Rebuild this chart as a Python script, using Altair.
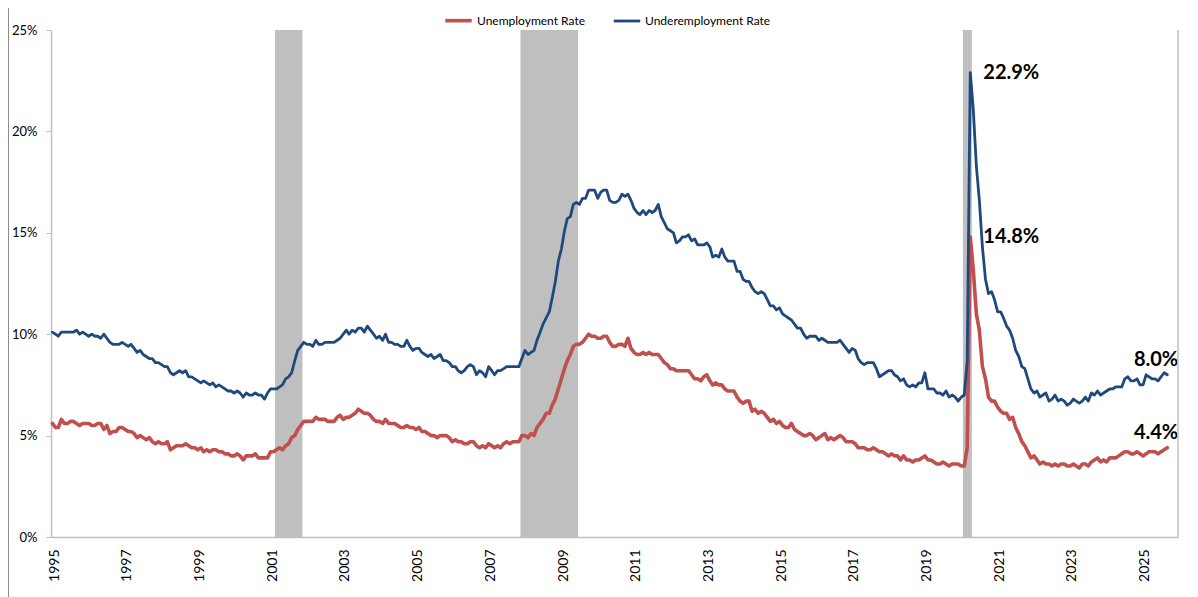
import altair as alt
import pandas as pd

# Monthly data, Jan 1995 - Sep 2025 (percent)
unemployment = [
    5.6,5.4,5.4,5.8,5.6,5.6,5.7,5.7,5.6,5.5,5.6,5.6,
    5.6,5.5,5.5,5.6,5.6,5.3,5.5,5.1,5.2,5.2,5.4,5.4,
    5.3,5.2,5.2,5.1,4.9,5.0,4.9,4.8,4.9,4.7,4.6,4.7,
    4.6,4.6,4.7,4.3,4.4,4.5,4.5,4.5,4.6,4.5,4.4,4.4,
    4.3,4.4,4.2,4.3,4.2,4.3,4.3,4.2,4.2,4.1,4.1,4.0,
    4.0,4.1,4.0,3.8,4.0,4.0,4.0,4.1,3.9,3.9,3.9,3.9,
    4.2,4.2,4.3,4.4,4.3,4.5,4.6,4.9,5.0,5.3,5.5,5.7,
    5.7,5.7,5.7,5.9,5.8,5.8,5.8,5.7,5.7,5.7,5.9,6.0,
    5.8,5.9,5.9,6.0,6.1,6.3,6.2,6.1,6.1,6.0,5.8,5.7,
    5.7,5.6,5.8,5.6,5.6,5.6,5.5,5.4,5.4,5.5,5.4,5.4,
    5.3,5.4,5.2,5.2,5.1,5.0,5.0,4.9,5.0,5.0,5.0,4.9,
    4.7,4.8,4.7,4.7,4.6,4.6,4.7,4.7,4.5,4.4,4.5,4.4,
    4.6,4.5,4.4,4.5,4.4,4.6,4.7,4.6,4.7,4.7,4.7,5.0,
    5.0,4.9,5.1,5.0,5.4,5.6,5.8,6.1,6.1,6.5,6.8,7.3,
    7.8,8.3,8.7,9.0,9.4,9.5,9.5,9.6,9.8,10.0,9.9,9.9,
    9.8,9.8,9.9,9.9,9.6,9.4,9.4,9.5,9.5,9.4,9.8,9.3,
    9.1,9.0,9.0,9.1,9.0,9.1,9.0,9.0,9.0,8.8,8.6,8.5,
    8.3,8.3,8.2,8.2,8.2,8.2,8.2,8.0,7.8,7.8,7.7,7.9,
    8.0,7.7,7.5,7.6,7.5,7.5,7.3,7.2,7.2,7.2,6.9,6.7,
    6.6,6.7,6.7,6.2,6.3,6.1,6.2,6.1,5.9,5.7,5.8,5.6,
    5.7,5.5,5.4,5.4,5.6,5.3,5.2,5.1,5.0,5.0,5.1,5.0,
    4.8,4.9,5.0,5.1,4.8,4.9,4.8,4.9,5.0,4.9,4.7,4.7,
    4.7,4.6,4.4,4.4,4.4,4.3,4.3,4.4,4.3,4.2,4.2,4.1,
    4.0,4.1,4.0,4.0,3.8,4.0,3.8,3.8,3.7,3.8,3.8,3.9,
    4.0,3.8,3.8,3.7,3.6,3.6,3.7,3.6,3.5,3.6,3.6,3.6,
    3.5,3.5,4.4,14.8,13.2,11.0,10.2,8.4,7.8,6.9,6.7,6.7,
    6.4,6.2,6.1,6.1,5.8,5.9,5.4,5.1,4.7,4.5,4.2,3.9,
    4.0,3.8,3.6,3.7,3.6,3.6,3.5,3.6,3.5,3.6,3.6,3.5,
    3.5,3.6,3.5,3.4,3.6,3.6,3.5,3.7,3.8,3.9,3.7,3.8,
    3.7,3.9,3.9,3.9,4.0,4.1,4.2,4.2,4.1,4.1,4.2,4.1,
    4.0,4.1,4.2,4.2,4.2,4.1,4.2,4.3,4.4,
]

underemployment = [
    10.1,10.0,9.9,10.1,10.1,10.1,10.1,10.1,10.2,10.0,10.1,10.0,
    9.9,10.0,9.9,9.9,9.8,10.0,9.8,9.6,9.5,9.5,9.5,9.6,
    9.5,9.4,9.5,9.3,9.1,9.2,9.0,8.9,8.8,8.8,8.6,8.6,
    8.5,8.4,8.4,8.1,8.0,8.1,8.2,8.1,8.2,7.9,7.9,7.8,
    7.7,7.6,7.7,7.6,7.5,7.6,7.4,7.5,7.4,7.3,7.2,7.2,
    7.1,7.2,7.1,6.9,7.1,7.0,7.0,7.1,7.0,7.0,6.8,7.1,
    7.3,7.3,7.3,7.4,7.5,7.8,7.9,8.1,8.7,9.2,9.4,9.6,
    9.5,9.5,9.4,9.7,9.5,9.5,9.6,9.6,9.6,9.6,9.7,9.8,
    10.0,10.2,10.0,10.2,10.1,10.3,10.3,10.1,10.4,10.2,10.0,9.8,
    9.9,9.7,10.0,9.6,9.6,9.5,9.5,9.4,9.4,9.7,9.4,9.2,
    9.3,9.3,9.1,9.0,8.9,9.0,8.8,8.9,9.0,8.7,8.7,8.6,
    8.4,8.4,8.2,8.1,8.2,8.4,8.5,8.4,8.0,8.2,8.1,7.9,
    8.4,8.2,8.0,8.2,8.2,8.3,8.4,8.4,8.4,8.4,8.4,8.8,
    9.2,9.0,9.1,9.2,9.7,10.1,10.5,10.8,11.1,11.8,12.6,13.6,
    14.2,15.1,15.7,15.8,16.4,16.5,16.4,16.7,16.7,17.1,17.1,17.1,
    16.7,17.0,17.1,17.1,16.6,16.5,16.5,16.6,16.9,16.8,16.9,16.6,
    16.2,16.0,15.9,16.1,15.9,16.1,16.0,16.1,16.4,15.8,15.5,15.2,
    15.1,15.0,14.5,14.6,14.8,14.8,14.9,14.6,14.7,14.4,14.4,14.4,
    14.5,14.3,13.8,13.9,13.8,14.2,13.8,13.6,13.6,13.6,13.1,13.1,
    12.7,12.6,12.6,12.3,12.1,12.0,12.1,12.0,11.7,11.4,11.4,11.2,
    11.3,11.0,10.9,10.8,10.7,10.5,10.3,10.3,10.0,9.8,9.9,9.9,
    9.9,9.7,9.8,9.7,9.6,9.6,9.6,9.6,9.7,9.5,9.3,9.1,
    9.3,9.2,8.8,8.6,8.5,8.6,8.6,8.6,8.3,7.9,8.0,8.1,
    8.2,8.2,8.0,7.9,7.7,7.8,7.5,7.4,7.5,7.4,7.6,7.6,
    8.1,7.3,7.3,7.3,7.1,7.1,7.0,7.2,6.9,7.0,6.9,6.7,
    6.9,7.0,8.7,22.9,21.1,18.3,16.6,14.3,12.7,12.0,12.1,11.7,
    11.1,11.1,10.8,10.4,10.2,9.8,9.2,8.9,8.4,8.3,7.8,7.3,
    7.1,7.2,6.9,7.0,7.1,6.7,6.8,7.0,6.7,6.8,6.7,6.5,
    6.6,6.8,6.7,6.6,6.7,6.9,6.7,7.1,7.0,7.2,7.0,7.1,
    7.2,7.3,7.3,7.4,7.4,7.4,7.8,7.9,7.7,7.7,7.8,7.5,
    7.5,8.0,7.9,7.8,7.8,7.7,7.9,8.1,8.0,
]

series_names = ["Unemployment Rate", "Underemployment Rate"]
series_colors = ["#C0504D", "#1F497D"]

recession_start = ["2001-03-01", "2007-12-01", "2020-02-01"]
recession_end = ["2001-12-01", "2009-07-01", "2020-05-01"]

tick_years = list(range(1995, 2026, 2))
y_ticks = [0, 5, 10, 15, 20, 25]

W, H = 1127, 507
FONT = "Lato"

months = pd.date_range("1995-01-01", periods=len(unemployment), freq="MS") + pd.Timedelta(days=14)
df = pd.concat([
    pd.DataFrame({"date": months, "value": unemployment, "series": series_names[0]}),
    pd.DataFrame({"date": months, "value": underemployment, "series": series_names[1]}),
])

rec = pd.DataFrame({"start": recession_start, "end": recession_end})

peaks = []
lasts = []
for name, vals in zip(series_names, [unemployment, underemployment]):
    i = max(range(len(vals)), key=lambda k: vals[k])
    peaks.append({"date": months[i], "value": vals[i], "label": f"{vals[i]:.1f}%"})
    lasts.append({"date": months[-1], "value": vals[-1], "label": f"{vals[-1]:.1f}%"})
peaks = pd.DataFrame(peaks)
lasts = pd.DataFrame(lasts)

x_scale = alt.Scale(domain=[alt.DateTime(year=1995, month=1, date=1),
                            alt.DateTime(year=2026, month=1, date=1)])
y_scale = alt.Scale(domain=[0, 25], nice=False)

x_axis = alt.Axis(
    values=[alt.DateTime(year=y, month=1, date=1) for y in tick_years],
    format="%Y", labelAngle=270, labelPadding=12, labelOffset=3, ticks=False,
    grid=False, title=None, domainColor="#bfbfbf", domainWidth=1.5,
    labelFont=FONT, labelFontSize=14, labelColor="#000000",
)
y_axis = alt.Axis(
    values=y_ticks, labelExpr="datum.value + '%'", tickSize=5, tickColor="#bfbfbf",
    domainColor="#bfbfbf", domainWidth=1.5, grid=False, title=None, labelPadding=9,
    labelFont=FONT, labelFontSize=13, labelColor="#000000",
)

shade = alt.Chart(rec).mark_rect(color="#bfbfbf").encode(
    x=alt.X("start:T", scale=x_scale, axis=x_axis),
    x2="end:T",
    y=alt.value(0),
    y2=alt.value(H),
)

lines = alt.Chart(df).mark_line(strokeJoin="round", strokeCap="round").encode(
    x=alt.X("date:T", scale=x_scale, axis=x_axis),
    y=alt.Y("value:Q", scale=y_scale, axis=y_axis),
    color=alt.Color("series:N", sort=series_names,
                    scale=alt.Scale(domain=series_names, range=series_colors),
                    legend=alt.Legend(title=None, orient="none", legendX=392, legendY=-25,
                                      direction="horizontal", symbolType="stroke",
                                      symbolSize=700, symbolStrokeWidth=4,
                                      labelFont=FONT, labelFontSize=12, labelColor="#000000",
                                      columnPadding=22, labelOffset=3)),
    strokeWidth=alt.StrokeWidth("series:N", scale=alt.Scale(domain=series_names, range=[3.6, 2.8]),
                                legend=None),
    order=alt.Order("date:T"),
)

peak_text = alt.Chart(peaks).mark_text(
    align="left", baseline="middle", dx=13, fontSize=20, fontWeight="bold", font=FONT, color="#000000"
).encode(
    x=alt.X("date:T", scale=x_scale),
    y=alt.Y("value:Q", scale=y_scale),
    text="label:N",
)

last_text = alt.Chart(lasts).mark_text(
    align="right", baseline="middle", dx=11, dy=-15, fontSize=20, fontWeight="bold", font=FONT, color="#000000"
).encode(
    x=alt.X("date:T", scale=x_scale),
    y=alt.Y("value:Q", scale=y_scale),
    text="label:N",
)

frame = pd.DataFrame({"k": [0]})
right_border = alt.Chart(frame).mark_rule(color="#bfbfbf", strokeWidth=1.5).encode(
    x=alt.value(W), y=alt.value(0), y2=alt.value(H)
)
outer_border = alt.Chart(frame).mark_rule(color="#8c8c8c", strokeWidth=1).encode(
    x=alt.value(-42.5), y=alt.value(-22), y2=alt.value(H + 60)
)

chart = alt.layer(shade, lines, peak_text, last_text, right_border, outer_border).properties(
    width=W, height=H,
    autosize=alt.AutoSizeParams(type="none"),
    padding={"left": 43, "top": 22, "right": 12, "bottom": 60},
).configure_view(stroke=None).resolve_scale(x="shared", y="shared")

chart.save("out.html", embed_options={"renderer": "svg", "actions": False})
